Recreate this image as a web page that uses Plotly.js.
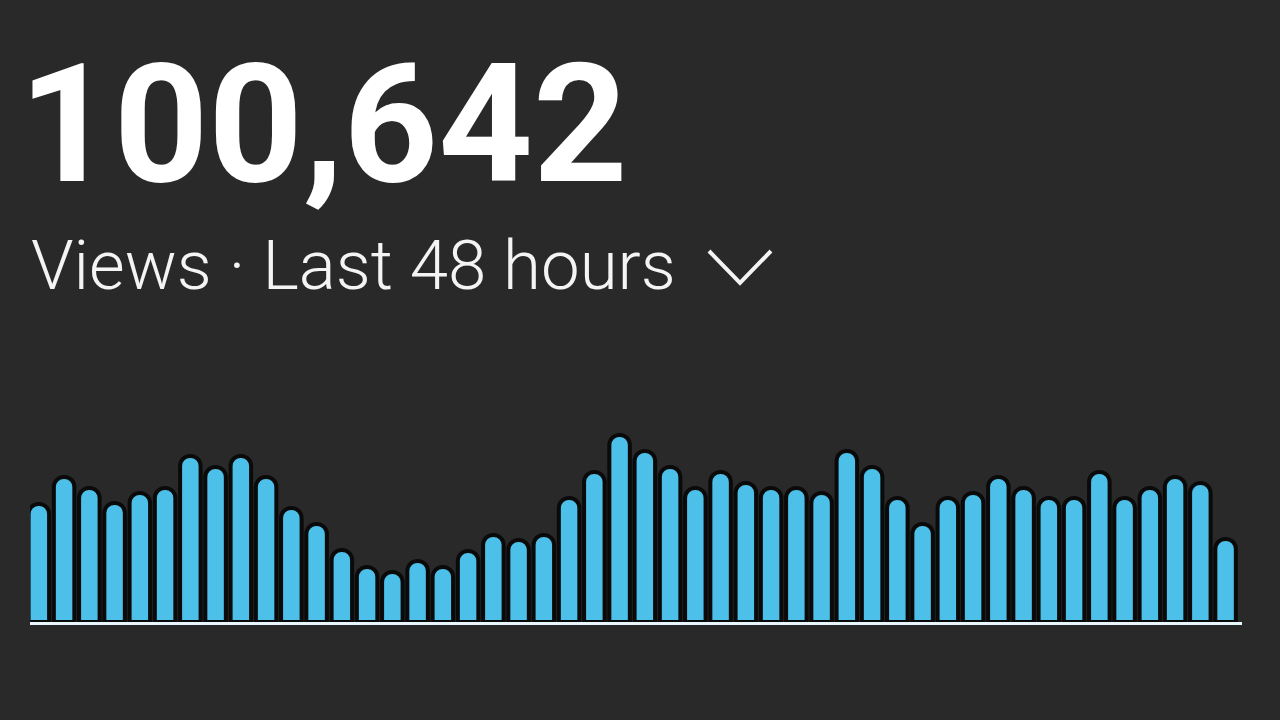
<!DOCTYPE html>
<html>
<head>
<meta charset="utf-8">
<script src="https://cdn.plot.ly/plotly-3.0.1.min.js"></script>
<style>
  html, body { margin: 0; padding: 0; background: #292929; }
  #chart { width: 1280px; height: 720px; }
</style>
</head>
<body>
<div id="chart"></div>
<script>
// Hour buckets (oldest to newest), last 48 hours
const hours = ["48h","47h","46h","45h","44h","43h","42h","41h","40h","39h","38h","37h",
               "36h","35h","34h","33h","32h","31h","30h","29h","28h","27h","26h","25h",
               "24h","23h","22h","21h","20h","19h","18h","17h","16h","15h","14h","13h",
               "12h","11h","10h","9h","8h","7h","6h","5h","4h","3h","2h","1h"];
// Relative hourly views
const views = [118,145,134,119,129,134,166,155,166,145,114,98,
               72,55,50,61,55,71,87,82,87,124,150,187,
               171,155,134,150,139,134,134,129,171,155,124,98,
               124,129,145,134,124,124,150,124,134,145,139,83];
const totalLabel = "100,642";
const subtitle = "Views · Last 48 hours";

// layout geometry (pixels)
const W = 1280, H = 720;
const ML = 30, MR = 38, MT = 422, MB = 98;
const plotW = W - ML - MR, plotH = H - MT - MB;
const px = x => (x - ML) / plotW;
const py = y => (H - MB - y) / plotH;

const trace = {
  type: 'bar',
  x: hours,
  y: views,
  marker: {
    color: '#4cc0e8',
    cornerradius: 10,
    line: { color: '#0a0a0a', width: 4 }
  },
  hoverinfo: 'skip'
};

const chevron = `M ${px(709)} ${py(251)} L ${px(740)} ${py(283)} L ${px(771)} ${py(251)}`;

const layout = {
  width: W, height: H,
  paper_bgcolor: '#292929',
  plot_bgcolor: '#292929',
  margin: { l: ML, r: MR, t: MT, b: MB, pad: 0 },
  showlegend: false,
  bargap: 0.188,
  xaxis: {
    type: 'category',
    range: [-0.35, 47.65],
    showgrid: false, zeroline: false, showticklabels: false, ticks: '',
    showline: true, linecolor: '#e8f7fc', linewidth: 3, fixedrange: true
  },
  yaxis: {
    range: [0, plotH],
    showgrid: false, zeroline: false, showticklabels: false, ticks: '',
    showline: false, fixedrange: true
  },
  annotations: [
    {
      text: totalLabel, xref: 'paper', yref: 'paper',
      x: px(17), y: py(124.5), xanchor: 'left', yanchor: 'middle',
      showarrow: false,
      font: { family: 'Roboto', size: 165, color: '#ffffff', weight: 700 }
    },
    {
      text: subtitle, xref: 'paper', yref: 'paper',
      x: px(29), y: py(265), xanchor: 'left', yanchor: 'middle',
      showarrow: false,
      font: { family: 'Roboto', size: 69, color: '#f4f4f4', weight: 300 }
    }
  ],
  shapes: [
    {
      type: 'path', xref: 'paper', yref: 'paper', path: chevron,
      line: { color: '#f4f4f4', width: 4 }
    }
  ]
};

Plotly.newPlot('chart', [trace], layout, { staticPlot: true, displayModeBar: false });
</script>
</body>
</html>
